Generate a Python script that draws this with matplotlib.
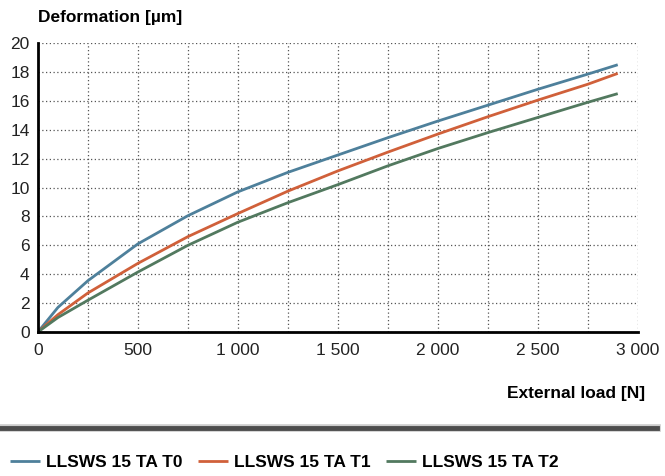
import matplotlib.pyplot as plt
from matplotlib.lines import Line2D

# Data
load = [0, 100, 250, 500, 750, 1000, 1250, 1500, 1750, 2000, 2250, 2500, 2750, 2900]
defo_t0 = [0, 1.7, 3.55, 6.1, 8.05, 9.7, 11.05, 12.25, 13.45, 14.6, 15.7, 16.8, 17.85, 18.5]
defo_t1 = [0, 1.2, 2.7, 4.75, 6.6, 8.2, 9.75, 11.15, 12.45, 13.7, 14.9, 16.05, 17.15, 17.9]
defo_t2 = [0, 1.0, 2.2, 4.15, 6.0, 7.6, 8.95, 10.2, 11.5, 12.7, 13.8, 14.85, 15.9, 16.5]
series_names = ["LLSWS 15 TA T0", "LLSWS 15 TA T1", "LLSWS 15 TA T2"]
series_colors = ["#4e809b", "#d0603a", "#52795f"]

x_ticks = [0, 500, 1000, 1500, 2000, 2500, 3000]
x_tick_labels = ["0", "500", "1 000", "1 500", "2 000", "2 500", "3 000"]
y_ticks = list(range(0, 21, 2))

plt.rcParams['font.family'] = ['Liberation Sans', 'DejaVu Sans']

fig = plt.figure(figsize=(6.65, 4.76), dpi=100)
ax = fig.add_axes([0.057, 0.3025, 0.902, 0.607])

for ys, name, col in zip([defo_t0, defo_t1, defo_t2], series_names, series_colors):
    ax.plot(load, ys, color=col, lw=2, label=name, solid_capstyle='butt', solid_joinstyle='round')

ax.set_xlim(0, 3000)
ax.set_ylim(0, 20)
ax.set_xticks(x_ticks)
ax.set_xticklabels(x_tick_labels)
ax.set_xticks(range(250, 3001, 500), minor=True)
ax.set_yticks(y_ticks)
ax.tick_params(which='both', length=0, labelsize=12.5, colors='#222222', pad=8)
ax.tick_params(axis='y', pad=6)
ax.grid(True, which='both', axis='x', linestyle=(0, (1, 2)), color='#555555', lw=0.9)
ax.grid(True, which='major', axis='y', linestyle=(0, (1, 2)), color='#555555', lw=0.9)

for s in ['top', 'right']:
    ax.spines[s].set_visible(False)
for s in ['left', 'bottom']:
    ax.spines[s].set_linewidth(2)
    ax.spines[s].set_color('black')

fig.text(0.057, 0.963, "Deformation [µm]", fontsize=12.5, fontweight='bold', ha='left', va='center')
fig.text(0.97, 0.174, "External load [N]", fontsize=12.5, fontweight='bold', ha='right', va='center')

# separator bar above legend
fig.add_artist(Line2D([0, 0.988], [0.1, 0.1], transform=fig.transFigure, color='#cccccc', lw=5.5))
fig.add_artist(Line2D([0, 0.988], [0.1, 0.1], transform=fig.transFigure, color='#4d4d4d', lw=3.5))

fig.legend(loc='center left', bbox_to_anchor=(0.015, 0.029), ncol=3, frameon=False,
           prop={'size': 12.5, 'weight': 'bold'}, handlelength=1.75, handletextpad=0.35,
           columnspacing=0.86, borderaxespad=0, borderpad=0)

fig.savefig("out.png", dpi=100)
